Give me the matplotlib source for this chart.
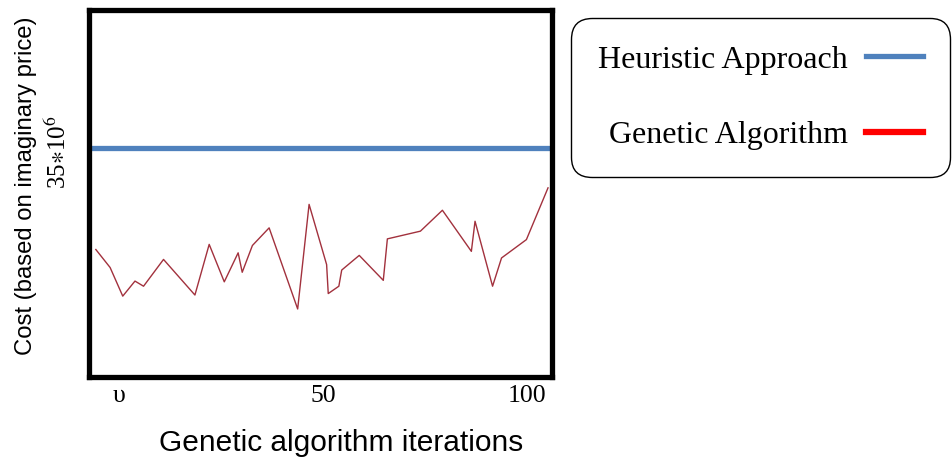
import numpy as np
import matplotlib
matplotlib.use('Agg')
import matplotlib.pyplot as plt

plt.rcParams['mathtext.fontset'] = 'stix'

# Data (cost in arbitrary units, axis has no ticks)
ga_iter = [-5.7, -2.2, 0.9, 3.9, 6.0, 10.9, 18.6, 22.1, 25.8, 29.2, 30.2, 32.7,
           36.8, 43.8, 46.6, 50.9, 51.3, 53.9, 54.6, 58.9, 64.8, 65.8, 73.9,
           79.3, 86.4, 87.3, 91.6, 93.8, 99.9, 105.2]
ga_cost = [34.6, 29.7, 21.9, 26.0, 24.6, 31.9, 22.2, 36.0, 25.8, 33.7, 28.4, 35.7,
           40.5, 18.4, 46.9, 30.5, 22.6, 24.6, 29.0, 33.0, 26.2, 37.5, 39.6,
           45.3, 34.1, 42.3, 24.6, 32.3, 37.3, 51.4]
heuristic_cost = 62.3

xtick_pos = [0, 50, 100]
xtick_labels = ['υ', '50', '100']

fig = plt.figure(figsize=(9.52, 4.58), dpi=100)
ax = fig.add_axes([88.5 / 952, 1 - 376.5 / 458, (552.5 - 88.5) / 952, 367 / 458])

# Heuristic approach: constant cost
ax.axhline(heuristic_cost, color='#4f81bd', linewidth=3.8, label='Heuristic Approach')
# Genetic algorithm trace
ax.plot(ga_iter, ga_cost, color='#a2313d', linewidth=1.0)
# legend handle for GA is drawn bright red in the reference
ax.plot([], [], color='#ff0000', linewidth=4.5, label='Genetic Algorithm')

ax.set_xlim(-7.5, 106.3)
ax.set_ylim(0, 100)
ax.set_yticks([])
ax.set_xticks(xtick_pos)
ax.set_xticklabels(xtick_labels, fontname='Liberation Serif', fontsize=18.5)
ax.tick_params(axis='x', length=0, pad=6)

for axis in ['top', 'bottom', 'left', 'right']:
    ax.spines[axis].set_linewidth(3.8)

# Axis titles
fig.text(341 / 952, 1 - 443 / 458, 'Genetic algorithm iterations', ha='center', va='center',
         fontname='Liberation Sans', fontsize=21.5)
fig.text(26 / 952, 1 - 186 / 458, 'Cost (based on imaginary price)', rotation=90,
         ha='center', va='center', fontname='Liberation Sans', fontsize=17.2)
fig.text(58 / 952, 1 - 152 / 458, r'35$\ast$10$^{6}$', rotation=90,
         ha='center', va='center', fontname='Liberation Serif', fontsize=18)

# Legend: label first, handle after, rounded frame
leg = ax.legend(loc='upper left', bbox_to_anchor=(571 / 952, 1 - 18 / 458),
                bbox_transform=fig.transFigure, markerfirst=False,
                prop={'family': 'Liberation Serif', 'size': 23},
                handlelength=1.8, handletextpad=0.56, labelspacing=1.45,
                borderpad=0.85, borderaxespad=0, frameon=True, fancybox=True)
frame = leg.get_frame()
frame.set_edgecolor('black')
frame.set_linewidth(1.0)
frame.set_alpha(1)
frame.set_boxstyle('round', pad=0, rounding_size=0.65)

fig.savefig('out.png', dpi=100)
